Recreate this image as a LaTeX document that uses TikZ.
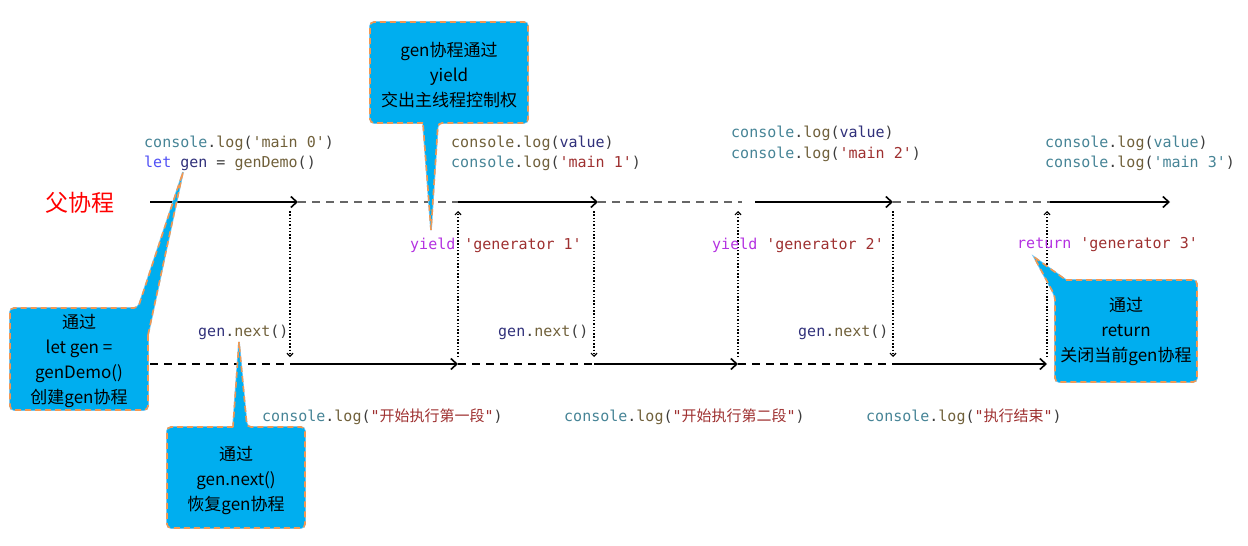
\documentclass[tikz,border=0pt]{standalone}
\usepackage{fontspec}
\usetikzlibrary{arrows.meta}
\newfontfamily\cjk{Noto Sans CJK SC}
\newfontfamily\codefont[Ligatures=TeXOff]{DejaVu Sans Mono}
\definecolor{codeteal}{RGB}{70,132,150}
\definecolor{codebrown}{RGB}{112,96,58}
\definecolor{codered}{RGB}{158,48,48}
\definecolor{codenavy}{RGB}{48,48,122}
\definecolor{codeblue}{RGB}{80,80,245}
\definecolor{codepurple}{RGB}{180,50,225}
\definecolor{codedark}{RGB}{60,60,60}
\definecolor{calloutblue}{RGB}{0,174,239}
\definecolor{calloutorange}{RGB}{243,152,82}
\definecolor{calloutedge}{RGB}{120,200,245}
\newcommand{\cnsl}{\textcolor{codeteal}{console}.\textcolor{codebrown}{log}}
\newcommand{\gnext}{\textcolor{codenavy}{gen}.\textcolor{codebrown}{next}()}

\begin{document}
\begin{tikzpicture}[x=1pt,y=-1pt,
  code/.style={anchor=west, inner sep=0pt, font=\codefont\fontsize{15}{18}\selectfont, text=codedark},
  note/.style={align=center, inner sep=0pt, font=\cjk\fontsize{17}{25}\selectfont, text=black},
  callout/.style={fill=calloutblue, draw=calloutorange, line width=1.6pt, dash pattern=on 6pt off 4pt,
    preaction={draw=calloutedge, line width=1.6pt, solid}},
  flow/.style={line width=1.6pt, -{Straight Barb[length=6pt,width=11pt]}},
  idle/.style={line width=1.3pt, dash pattern=on 8pt off 6pt},
  jump/.style={line width=1.2pt, dash pattern=on 1.5pt off 1.8pt, -{Straight Barb[length=3pt,width=6pt]}}
]
\useasboundingbox (0,0) rectangle (1248,546);

% time lines
\coordinate (t0) at (150,202); \coordinate (t1) at (298,202); \coordinate (t2) at (458,202);
\coordinate (t3) at (598,202); \coordinate (t4) at (742,202); \coordinate (t4s) at (755,202);
\coordinate (t5) at (893,202); \coordinate (t6) at (1050,202); \coordinate (t7) at (1170,202);
\coordinate (b0) at (150,364); \coordinate (b1) at (290,364); \coordinate (b2) at (458,364);
\coordinate (b3) at (594,364); \coordinate (b4) at (738,364); \coordinate (b5) at (893,364);
\coordinate (b6) at (1047,364);

\draw[flow] (t0) -- (t1);
\draw[idle, gray!80!black] (t1) -- (t2);
\draw[flow] (t2) -- (t3);
\draw[idle, gray!80!black] (t3) -- (t4);
\draw[flow] (t4s) -- (t5);
\draw[idle, gray!80!black] (t5) -- (t6);
\draw[flow] (t6) -- (t7);

\draw[idle] (b0) -- (b1);
\draw[flow] (b1) -- (b2);
\draw[idle] (b2) -- (b3);
\draw[flow] (b3) -- (b4);
\draw[idle] (b4) -- (b5);
\draw[flow] (b5) -- (b6);

% switches between the two
\foreach \x [count=\i] in {290,458,594,738,893,1047} {
  \coordinate (u\i) at (\x,211);
  \coordinate (l\i) at (\x,357);
}
\draw[jump] (u1) -- (l1);
\draw[jump] (l2) -- (u2);
\draw[jump] (u3) -- (l3);
\draw[jump] (l4) -- (u4);
\draw[jump] (u5) -- (l5);
\draw[jump] (l6) -- (u6);

\node[text=red, font=\cjk\fontsize{23}{23}\selectfont] (parent) at (80,203) {父协程};

\node[code] (main0) at (144,143) {\cnsl(\textcolor{codebrown}{'main 0'})};
\node[code] (letgen) at (144,163) {\textcolor{codeblue}{let} \textcolor{codenavy}{gen} = \textcolor{codebrown}{genDemo}()};
\node[code] (val1) at (451,143) {\textcolor{codebrown}{console}.\textcolor{codebrown}{log}(\textcolor{codenavy}{value})};
\node[code] (main1) at (451,163) {\cnsl(\textcolor{codered}{'main 1'})};
\node[code] (val2) at (731,133) {\cnsl(\textcolor{codenavy}{value})};
\node[code] (main2) at (731,154) {\cnsl(\textcolor{codered}{'main 2'})};
\node[code] (val3) at (1045,143) {\cnsl(\textcolor{codeteal}{value})};
\node[code] (main3) at (1045,163) {\cnsl(\textcolor{codeteal}{'main 3'})};

\node[code] (yield1) at (410,245) {\textcolor{codepurple}{yield} \textcolor{codered}{'generator 1'}};
\node[code] (yield2) at (712,245) {\textcolor{codepurple}{yield} \textcolor{codered}{'generator 2'}};
\node[code] (ret3) at (1017,245) {\textcolor{codepurple}{return} \textcolor{codered}{'generator 3'}};

\node[code] (next1) at (198,332) {\gnext};
\node[code] (next2) at (498,332) {\gnext};
\node[code] (next3) at (798,332) {\gnext};

\node[code] (seg1) at (262,417) {\cnsl(\textcolor{codered}{"{\cjk 开始执行第一段}"})};
\node[code] (seg2) at (564,417) {\cnsl(\textcolor{codered}{"{\cjk 开始执行第二段}"})};
\node[code] (seg3) at (866,417) {\cnsl(\textcolor{codered}{"{\cjk 执行结束}"})};

% callouts
\draw[callout] (423,123) [rounded corners=4pt] -- (370,123) -- (370,22) -- (528,22) -- (528,123) -- (438,123) [sharp corners] -- (431,230) -- cycle;
\draw[callout] (148,335) [rounded corners=4pt] -- (148,410) -- (10,410) -- (10,308) -- (138,308) [sharp corners] -- (183,172) -- cycle;
\draw[callout] (233,427) [rounded corners=4pt] -- (167,427) -- (167,528) -- (305,528) -- (305,427) -- (247,427) [sharp corners] -- (239,342) -- cycle;
\draw[callout] (1066,280) [rounded corners=4pt] -- (1197,280) -- (1197,382) -- (1055,382) -- (1055,296) [sharp corners] -- (1034,257) -- cycle;

\node[note] (noteyield) at (449,75) {gen协程通过\\yield\\交出主线程控制权};
\node[note] (notecreate) at (79,361) {通过\\let gen =\\genDemo()\\创建gen协程};
\node[note] (noteresume) at (236,481) {通过\\gen.next()\\恢复gen协程};
\node[note] (notereturn) at (1126,332) {通过\\return\\关闭当前gen协程};

\end{tikzpicture}
\end{document}
